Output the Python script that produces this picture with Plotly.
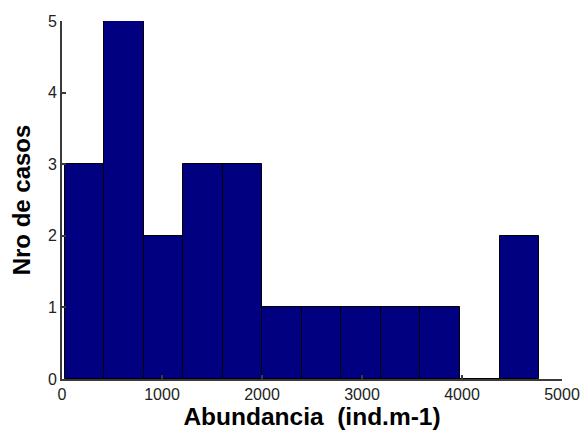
import plotly.graph_objects as go

# Histogram of abundance values: 12 equal-width bins
bin_start = 25.0
bin_width = 395.5
bin_counts = [3, 5, 2, 3, 3, 1, 1, 1, 1, 1, 0, 2]

x_ticks = [0, 1000, 2000, 3000, 4000, 5000]
y_ticks = [0, 1, 2, 3, 4, 5]

centers = [bin_start + bin_width * (i + 0.5) for i in range(len(bin_counts))]

fig = go.Figure(
    go.Bar(
        x=centers,
        y=bin_counts,
        width=[bin_width] * len(bin_counts),
        marker=dict(color="#000080", line=dict(color="#000000", width=1)),
        hoverinfo="skip",
    )
)

font = "Liberation Sans, Arial, sans-serif"

fig.update_layout(
    width=580,
    height=434,
    margin=dict(l=62, r=18, t=21, b=55, autoexpand=False),
    paper_bgcolor="white",
    plot_bgcolor="white",
    showlegend=False,
    bargap=0,
    font=dict(family=font, color="#1a1a1a"),
)

fig.update_xaxes(
    range=[0, 5000],
    tickvals=x_ticks,
    ticktext=[str(v) for v in x_ticks],
    ticks="inside",
    ticklen=4,
    tickwidth=1.5,
    tickcolor="#3a3a3a",
    showline=True,
    linecolor="#3a3a3a",
    linewidth=2,
    showgrid=False,
    zeroline=False,
    automargin=False,
    tickfont=dict(size=16, family=font, color="#222"),
    title=dict(
        text="Abundancia\u00a0 (ind.m-1)",
        font=dict(size=24.5, family=font, color="#000", weight="bold"),
        standoff=6,
    ),
)

fig.update_yaxes(
    range=[0, 5],
    tickvals=y_ticks,
    ticktext=[str(v) for v in y_ticks],
    ticks="inside",
    ticklen=4,
    tickwidth=1.5,
    tickcolor="#3a3a3a",
    showline=True,
    linecolor="#3a3a3a",
    linewidth=2,
    showgrid=False,
    zeroline=False,
    automargin=False,
    tickfont=dict(size=16, family=font, color="#222"),
    title=dict(
        text="Nro de casos",
        font=dict(size=24, family=font, color="#000", weight="bold"),
        standoff=10,
    ),
)

fig.write_html("out.html")
